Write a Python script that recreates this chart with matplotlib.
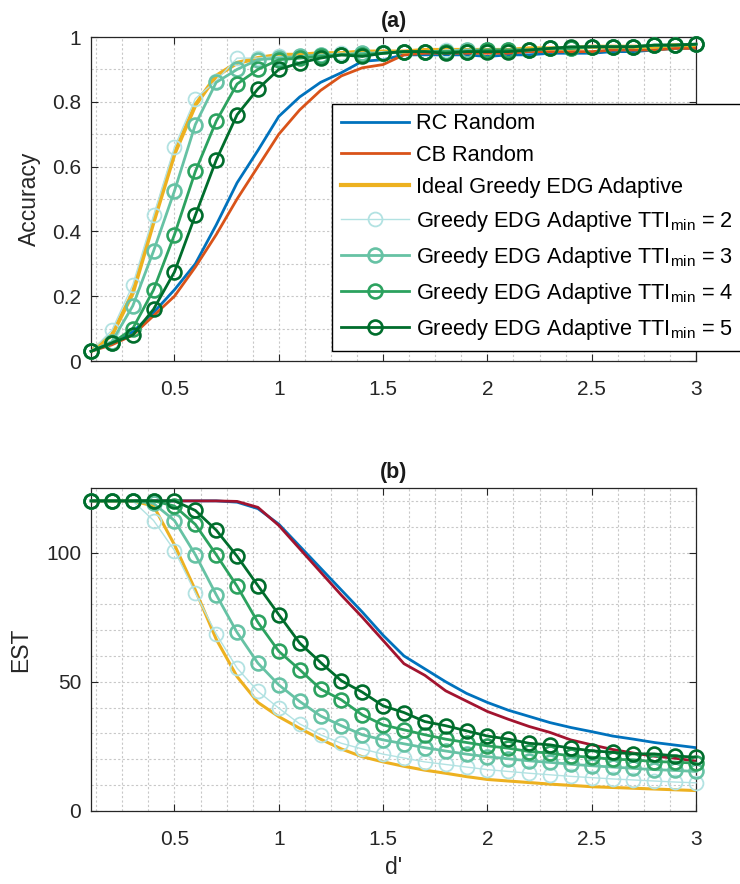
import matplotlib
matplotlib.use("Agg")
import matplotlib.pyplot as plt
from matplotlib.ticker import MultipleLocator

plt.rcParams['font.family'] = ['Liberation Sans', 'DejaVu Sans']
plt.rcParams['mathtext.fontset'] = 'custom'
plt.rcParams['mathtext.rm'] = 'Liberation Sans'

# d' values (x axis)
d_prime = [0.1, 0.2, 0.3, 0.4, 0.5, 0.6, 0.7, 0.8, 0.9, 1.0,
           1.1, 1.2, 1.3, 1.4, 1.5, 1.6, 1.7, 1.8, 1.9, 2.0,
           2.1, 2.2, 2.3, 2.4, 2.5, 2.6, 2.7, 2.8, 2.9, 3.0]

# (a) accuracy
rc_acc = [0.03, 0.055, 0.09, 0.15, 0.22, 0.30, 0.42, 0.55, 0.65, 0.755,
          0.815, 0.86, 0.89, 0.925, 0.93, 0.945, 0.945, 0.945, 0.945, 0.94,
          0.945, 0.945, 0.95, 0.95, 0.95, 0.955, 0.955, 0.96, 0.965, 0.965]
cb_acc = [0.03, 0.05, 0.08, 0.14, 0.20, 0.29, 0.39, 0.50, 0.60, 0.70,
          0.775, 0.835, 0.88, 0.905, 0.915, 0.945, 0.95, 0.95, 0.95, 0.95,
          0.95, 0.955, 0.955, 0.955, 0.955, 0.96, 0.96, 0.96, 0.965, 0.965]
ideal_acc = [0.03, 0.08, 0.21, 0.43, 0.64, 0.79, 0.88, 0.92, 0.935, 0.945,
             0.945, 0.95, 0.95, 0.955, 0.955, 0.955, 0.96, 0.96, 0.96, 0.96,
             0.96, 0.965, 0.965, 0.965, 0.97, 0.97, 0.97, 0.97, 0.975, 0.975]
tti2_acc = [0.03, 0.095, 0.235, 0.45, 0.66, 0.81, 0.865, 0.935, 0.935, 0.94,
            0.94, 0.945, 0.95, 0.95, 0.955, 0.955, 0.955, 0.96, 0.96, 0.96,
            0.96, 0.96, 0.965, 0.965, 0.97, 0.97, 0.97, 0.975, 0.975, 0.978]
tti3_acc = [0.03, 0.06, 0.17, 0.34, 0.525, 0.73, 0.86, 0.90, 0.93, 0.935,
            0.94, 0.945, 0.945, 0.95, 0.95, 0.955, 0.955, 0.955, 0.96, 0.96,
            0.96, 0.96, 0.965, 0.965, 0.97, 0.97, 0.97, 0.975, 0.975, 0.978]
tti4_acc = [0.03, 0.055, 0.10, 0.22, 0.39, 0.585, 0.74, 0.855, 0.90, 0.93,
            0.935, 0.94, 0.945, 0.945, 0.95, 0.955, 0.955, 0.955, 0.955, 0.96,
            0.96, 0.96, 0.965, 0.965, 0.97, 0.97, 0.97, 0.975, 0.975, 0.978]
tti5_acc = [0.03, 0.056, 0.08, 0.16, 0.275, 0.45, 0.62, 0.76, 0.84, 0.90,
            0.92, 0.935, 0.945, 0.94, 0.95, 0.955, 0.955, 0.95, 0.955, 0.955,
            0.955, 0.96, 0.965, 0.97, 0.97, 0.97, 0.97, 0.975, 0.975, 0.978]

# (b) EST
rc_est = [120, 120, 120, 120, 120, 120, 120, 119.5, 117, 111,
          102.5, 94, 85.5, 77, 68, 60, 55, 50, 45.5, 42,
          39, 36.6, 34.2, 32.3, 30.7, 29, 27.8, 26.5, 25.5, 24.5]
cb_est = [120, 120, 120, 120, 120, 120, 120, 119.8, 117.5, 110.5,
          101.5, 92.5, 83.5, 75, 66, 57, 52.5, 46.5, 42.5, 38.5,
          35.5, 32.7, 30.4, 27.5, 25.6, 23.8, 22.4, 21.2, 20.4, 19.3]
ideal_est = [120, 120, 120, 118, 103, 85.5, 66.5, 52, 42, 36.5,
             32, 27.8, 24, 21, 19, 17.3, 15.8, 14.6, 13.3, 12.2,
             11.6, 11, 10.4, 9.9, 9.4, 9.1, 8.8, 8.5, 8.2, 7.9]
tti2_est = [120, 120, 120, 112.4, 100.8, 84.4, 68.5, 55.3, 46.3, 39.8,
            33.7, 29.5, 26.2, 24, 22, 20.5, 19, 18, 17, 16,
            15.3, 14.6, 14, 13.4, 12.9, 12.4, 12, 11.6, 11.2, 10.9]
tti3_est = [120, 120, 120, 119, 112.4, 99.2, 83.7, 69.1, 57.2, 48.8,
            42.4, 36.8, 33, 29.5, 27.5, 26, 24.5, 23.2, 22, 21,
            20.2, 19.4, 18.8, 18.1, 17.5, 17, 16.5, 16, 15.7, 15.3]
tti4_est = [120, 120, 120, 120, 118, 110.9, 99.2, 87, 73, 61.8,
            54.7, 47.2, 43, 37.2, 33.3, 31.4, 29.5, 27.8, 26.5, 25.2,
            24.3, 23, 22.4, 21.3, 20.8, 20, 19.8, 19.1, 18.9, 18.5]
tti5_est = [120, 120, 120, 120, 120, 116.3, 108.7, 98.6, 87.2, 76,
            65, 57.5, 50.4, 46, 40.7, 38.1, 34.6, 33, 31, 29,
            27.8, 26.2, 25.6, 24.3, 23.3, 22.7, 22.1, 22.1, 21.3, 20.8]

labels = ['RC Random', 'CB Random', 'Ideal Greedy EDG Adaptive',
          r'Greedy EDG Adaptive TTI$_{\mathregular{min}}$ = 2',
          r'Greedy EDG Adaptive TTI$_{\mathregular{min}}$ = 3',
          r'Greedy EDG Adaptive TTI$_{\mathregular{min}}$ = 4',
          r'Greedy EDG Adaptive TTI$_{\mathregular{min}}$ = 5']

blue = '#0072BD'
orange = '#D95319'
crimson = '#A2142F'
yellow = '#EDB120'
greens = ['#b2e2e2', '#66c2a4', '#2ca25f', '#006d2c']
axis_col = '#262626'
FS = 15

fig = plt.figure(figsize=(7.4, 8.84), dpi=100)
ax1 = fig.add_axes([0.123, 0.5916, 0.8176, 0.3665])
ax2 = fig.add_axes([0.123, 0.0826, 0.8176, 0.3654])


def draw(ax, rc, cb, ideal, ttis, cb_color, ideal_lw):
    ax.plot(d_prime, rc, color=blue, lw=2, label=labels[0])
    ax.plot(d_prime, cb, color=cb_color, lw=2, label=labels[1])
    ax.plot(d_prime, ideal, color=yellow, lw=ideal_lw, label=labels[2])
    for i, vals in enumerate(ttis):
        lw = 1 if i == 0 else 2
        ax.plot(d_prime, vals, color=greens[i], lw=lw, marker='o',
                markersize=10, markerfacecolor='none',
                markeredgewidth=1.3 if i == 0 else 1.9,
                label=labels[3 + i], clip_on=False, zorder=3 + i)


draw(ax1, rc_acc, cb_acc, ideal_acc, [tti2_acc, tti3_acc, tti4_acc, tti5_acc], orange, 3)
draw(ax2, rc_est, cb_est, ideal_est, [tti2_est, tti3_est, tti4_est, tti5_est], crimson, 2.2)

for ax in (ax1, ax2):
    ax.set_xlim(0.1, 3)
    ax.xaxis.set_major_locator(MultipleLocator(0.5))
    ax.xaxis.set_minor_locator(MultipleLocator(0.125))
    ax.grid(which='both', linestyle=(0, (2, 2)), color='#c8c8c8', lw=0.8)
    ax.set_axisbelow(True)
    ax.tick_params(which='major', direction='in', top=True, right=True,
                   length=5, width=0.8, labelsize=FS, colors=axis_col)
    ax.tick_params(axis='x', pad=14)
    ax.tick_params(axis='y', pad=7)
    ax.tick_params(which='minor', length=0)
    for s in ax.spines.values():
        s.set_color(axis_col)
        s.set_linewidth(0.9)

ax1.set_ylim(0, 1)
ax1.yaxis.set_minor_locator(MultipleLocator(0.1))
ax1.set_yticks([0, 0.2, 0.4, 0.6, 0.8, 1])
ax1.set_yticklabels(['0', '0.2', '0.4', '0.6', '0.8', '1'])
ax1.set_xticks([0.5, 1, 1.5, 2, 2.5, 3])
ax1.set_xticklabels(['0.5', '1', '1.5', '2', '2.5', '3'])
ax1.set_ylabel('Accuracy', fontsize=16.5, color=axis_col, labelpad=8)
ax1.set_title('(a)', fontsize=15.5, fontweight='bold', color='#1a1a1a', pad=7)

ax2.set_ylim(0, 125)
ax2.set_yticks([0, 50, 100])
ax2.yaxis.set_minor_locator(MultipleLocator(10))
ax2.set_xticks([0.5, 1, 1.5, 2, 2.5, 3])
ax2.set_xticklabels(['0.5', '1', '1.5', '2', '2.5', '3'])
ax2.set_ylabel('EST', fontsize=16.5, color=axis_col, labelpad=10)
ax2.set_xlabel("d'", fontsize=16.5, color=axis_col, labelpad=5)
ax2.set_title('(b)', fontsize=15.5, fontweight='bold', color='#1a1a1a', pad=7)

# legend sticks out past the right edge of the axes, like the original
leg = ax1.legend(loc='upper left', bbox_to_anchor=(332 / 740, 1 - 104 / 884),
                 bbox_transform=fig.transFigure, fontsize=15.7,
                 frameon=True, fancybox=False, edgecolor='black',
                 framealpha=1, borderaxespad=0, handlelength=3.1,
                 handletextpad=0.35, labelspacing=0.5, borderpad=0.42)
leg.get_frame().set_linewidth(1.0)
leg.set_zorder(20)

fig.savefig('out.png', dpi=100)
